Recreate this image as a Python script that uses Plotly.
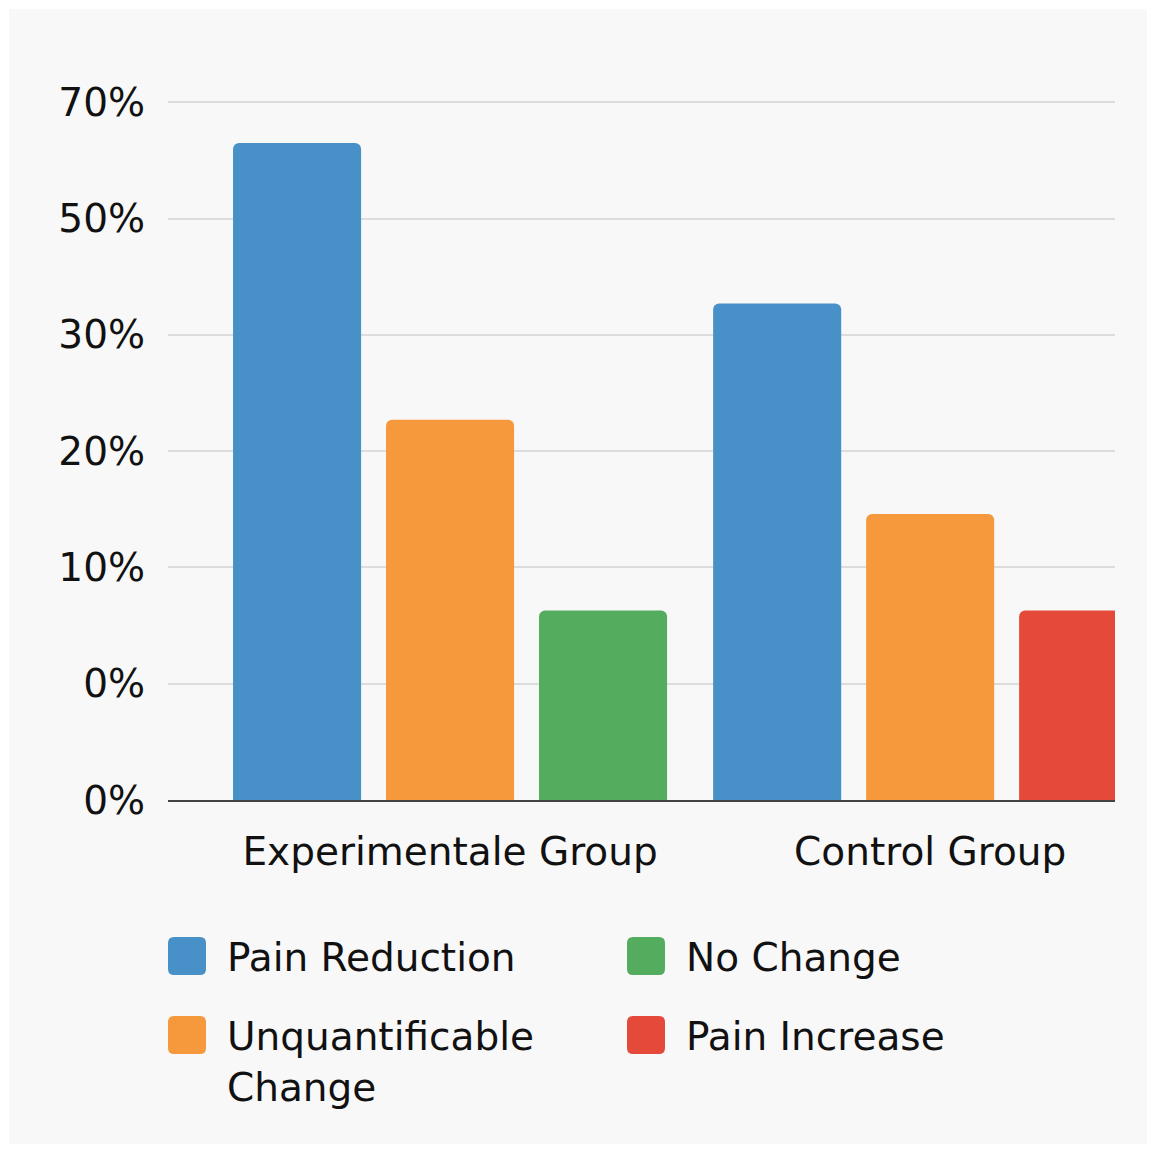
import plotly.graph_objects as go

# ---------------- data ----------------
groups = ["Experimentale Group", "Control Group"]
# tick labels of the (non-linear) value axis, one per gridline from bottom to top
tick_labels = ["0%", "0%", "10%", "20%", "30%", "50%", "70%"]
tick_positions = [0, 1, 2, 3, 4, 5, 6]

# bar heights read on the chart's own axis (in gridline units)
pain_reduction = [5.65, 4.27]        # Experimentale, Control
unquantificable = [3.27, 2.46]       # Experimentale, Control
no_change = [1.63]                   # Experimentale only
pain_increase = [1.63]               # Control only

series_names = ["Pain Reduction", "Unquantificable Change", "No Change", "Pain Increase"]
series_legend = ["Pain Reduction", "Unquantificable<br>Change", "No Change", "Pain Increase"]
colors = ["#4790c8", "#f6983c", "#54ad5f", "#e5493a"]

# ---------------- figure ----------------
W, H = 1156, 1153
L, R, T, B = 168, 41, 79, 353
pw, ph = W - L - R, H - T - B

FONT = "DejaVu Sans"
FS = 39
fig = go.Figure()

fig.add_trace(go.Bar(name=series_names[0], x=groups, y=pain_reduction,
                     marker=dict(color=colors[0], line=dict(width=0)),
                     offsetgroup="a", showlegend=False))
fig.add_trace(go.Bar(name=series_names[1], x=groups, y=unquantificable,
                     marker=dict(color=colors[1], line=dict(width=0)),
                     offsetgroup="b", showlegend=False))
fig.add_trace(go.Bar(name=series_names[2], x=[groups[0]], y=no_change,
                     marker=dict(color=colors[2], line=dict(width=0)),
                     offsetgroup="c", showlegend=False))
fig.add_trace(go.Bar(name=series_names[3], x=[groups[1]], y=pain_increase,
                     marker=dict(color=colors[3], line=dict(width=0)),
                     offsetgroup="c", showlegend=False))


def px2paper_x(px):
    return (px - L) / pw


def px2paper_y(py):
    return (H - B - py) / ph


shapes = []
annotations = []

# light-grey card with white frame
shapes.append(dict(type="rect", xref="paper", yref="paper",
                   x0=px2paper_x(9), x1=px2paper_x(W - 9),
                   y0=px2paper_y(H - 9), y1=px2paper_y(9),
                   fillcolor="#f8f8f8", line=dict(width=0), layer="below"))

# custom legend (two columns)
legend_cols = [168, 627]
legend_rows = [956, 1035]
h, r = 19, 6
swatch_path = (f"M {-h+r},{-h} L {h-r},{-h} Q {h},{-h} {h},{-h+r} L {h},{h-r} "
               f"Q {h},{h} {h-r},{h} L {-h+r},{h} Q {-h},{h} {-h},{h-r} "
               f"L {-h},{-h+r} Q {-h},{-h} {-h+r},{-h} Z")
legend_order = [0, 2, 1, 3]  # row-major placement
for slot, idx in enumerate(legend_order):
    cx = legend_cols[slot % 2]
    cy = legend_rows[slot // 2]
    shapes.append(dict(type="path", xref="paper", yref="paper",
                       xsizemode="pixel", ysizemode="pixel",
                       xanchor=px2paper_x(cx + h), yanchor=px2paper_y(cy),
                       path=swatch_path, fillcolor=colors[idx],
                       line=dict(width=0)))
    annotations.append(dict(xref="paper", yref="paper",
                            x=px2paper_x(cx + 57), y=px2paper_y(cy - 23),
                            xanchor="left", yanchor="top", align="left",
                            text=series_legend[idx], showarrow=False,
                            font=dict(family=FONT, size=FS, color="#111111")))

fig.update_layout(
    width=W, height=H,
    margin=dict(l=L, r=R, t=T, b=B, pad=0),
    paper_bgcolor="#ffffff",
    plot_bgcolor="rgba(0,0,0,0)",
    barmode="group",
    bargap=0.044,
    bargroupgap=0.163,
    barcornerradius=6,
    font=dict(family=FONT, size=FS, color="#111111"),
    showlegend=False,
    shapes=shapes,
    annotations=annotations,
    xaxis=dict(
        type="category",
        range=[-0.5875, 1.385],
        showgrid=False,
        showline=True, linecolor="#444444", linewidth=2,
        ticks="", ticklabelstandoff=16,
        tickfont=dict(family=FONT, size=FS, color="#111111"),
        zeroline=False,
    ),
    yaxis=dict(
        range=[0, 6.2],
        tickmode="array", tickvals=tick_positions, ticktext=tick_labels,
        showgrid=True, gridcolor="#dcdcdc", gridwidth=2,
        zeroline=False, showline=False,
        ticks="", ticklabelstandoff=22,
        tickfont=dict(family=FONT, size=FS, color="#111111"),
    ),
)

fig.write_html("out.html")
